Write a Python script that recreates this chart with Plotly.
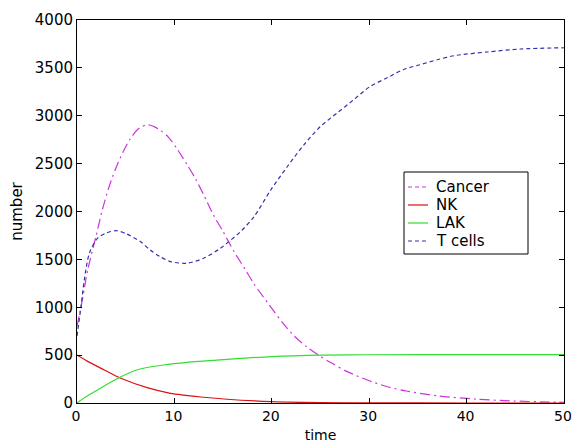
import plotly.graph_objects as go

# ---- data ----
cancer_t = [0, 0.5, 1.1, 1.95, 2.6, 3.3, 4.2, 5.4, 6.4, 7.3, 8.4, 9.4, 10.3, 11.3, 12.2, 13.0,
            14.0, 15.0, 16.1, 17.3, 18.2, 19.7, 21.1, 22.3, 23.6, 24.8, 26.0, 27.7, 29.8,
            31.8, 33.8, 37.2, 41.0, 44.5, 48.5, 50]
cancer_v = [800, 1050, 1390, 1740, 2017, 2261, 2505, 2749, 2871, 2906, 2860, 2775, 2650, 2490, 2335, 2175,
            1965, 1790, 1585, 1390, 1240, 1030, 840, 700, 585, 500, 425, 330, 240,
            172, 125, 73, 40, 22, 10, 8]

nk_t = [0, 1, 2.8, 4.5, 7.2, 9.6, 13.0, 15.4, 20, 25, 30, 40, 50]
nk_v = [500, 440, 345, 258, 160, 101, 60, 39, 15, 5, 2, 0, 0]

lak_t = [0, 1, 2.1, 4.2, 6.1, 8.9, 11.3, 15.4, 20, 25, 30, 40, 50]
lak_v = [0, 70, 136, 258, 345, 397, 425, 455, 485, 500, 504, 505, 505]

tcell_t = [0, 0.4, 0.75, 1.26, 2.1, 3.0, 4.0, 5.0, 6.5, 7.5, 8.5, 9.6, 11.3, 13.0, 14.65, 15.4,
           16.8, 18.2, 19.9, 21.6, 23.3, 25.0, 26.7, 28.4, 30.1, 31.8, 33.5, 35.2, 37.0,
           38.7, 42.1, 45.5, 50]
tcell_v = [700, 1000, 1286, 1560, 1720, 1775, 1800, 1770, 1686, 1600, 1530, 1477, 1460, 1512, 1610, 1670,
           1790, 1950, 2226, 2470, 2697, 2888, 3028, 3167, 3306, 3394, 3481, 3533, 3585,
           3627, 3666, 3697, 3710]

series_names = ["Cancer", "NK", "LAK", "T cells"]
x_ticks = [0, 10, 20, 30, 40, 50]
y_ticks = [0, 500, 1000, 1500, 2000, 2500, 3000, 3500, 4000]

FONT = "DejaVu Sans, Arial, sans-serif"
COLORS = ["#CC33DD", "#DD1111", "#33DD33", "#3333AA"]
DASHES = ["10px,4px,2px,4px", "solid", "solid", "4px,3px"]

W, H = 574, 445
ML, MR, MT, MB = 77, 10, 20, 42
PW, PH = W - ML - MR, H - MT - MB


def px_x(p):  # pixel -> paper x
    return (p - ML) / PW


def px_y(p):  # pixel -> paper y
    return (H - MB - p) / PH


fig = go.Figure()
data = [(cancer_t, cancer_v), (nk_t, nk_v), (lak_t, lak_v), (tcell_t, tcell_v)]
for (t, v), name, col, dash in zip(data, series_names, COLORS, DASHES):
    fig.add_trace(go.Scatter(x=t, y=v, mode="lines", name=name, showlegend=False,
                             line=dict(color=col, width=1.2, dash=dash, shape="spline", smoothing=0.8)))

axis_common = dict(showline=True, linecolor="black", linewidth=1, mirror="ticks",
                   ticks="inside", ticklen=5, tickcolor="black", showgrid=False, zeroline=False,
                   automargin=False, ticklabeloverflow="allow",
                   tickfont=dict(family=FONT, size=15, color="black"))

fig.update_xaxes(range=[0, 50], tickvals=x_ticks, ticktext=[str(v) for v in x_ticks],
                 title=dict(text="time", font=dict(family=FONT, size=14, color="black"), standoff=7),
                 **axis_common)
fig.update_xaxes(tickfont=dict(size=14), ticklabelshift=-1)
fig.update_yaxes(range=[0, 4000], tickvals=y_ticks, ticktext=[str(v) for v in y_ticks],
                 title=dict(text="number", font=dict(family=FONT, size=15, color="black"), standoff=8),
                 **axis_common)

# ---- legend box drawn by hand (tight MATLAB-style spacing) ----
shapes = [dict(type="rect", xref="paper", yref="paper",
               x0=px_x(404), x1=px_x(528), y0=px_y(254), y1=px_y(172),
               line=dict(color="black", width=1), fillcolor="white", layer="above")]
annotations = []
rows = [187, 205, 223, 241]
for name, col, dash, yy in zip(series_names, COLORS, DASHES, rows):
    shapes.append(dict(type="line", xref="paper", yref="paper",
                       x0=px_x(408), x1=px_x(428), y0=px_y(yy), y1=px_y(yy),
                       line=dict(color=col, width=1.2, dash=dash if dash != "10px,4px,2px,4px" else "4px,3px"),
                       layer="above"))
    annotations.append(dict(text=name, xref="paper", yref="paper", x=px_x(434), y=px_y(yy),
                            xanchor="left", yanchor="middle", showarrow=False,
                            font=dict(family=FONT, size=15, color="black")))

fig.update_layout(
    width=W, height=H,
    margin=dict(l=ML, r=MR, t=MT, b=MB, autoexpand=False),
    paper_bgcolor="white", plot_bgcolor="white",
    showlegend=False,
    shapes=shapes, annotations=annotations,
    font=dict(family=FONT, size=15, color="black"),
)

fig.write_html("out.html", config={"displayModeBar": False},
               post_script="document.body.style.margin='0';document.body.style.overflow='hidden';")
